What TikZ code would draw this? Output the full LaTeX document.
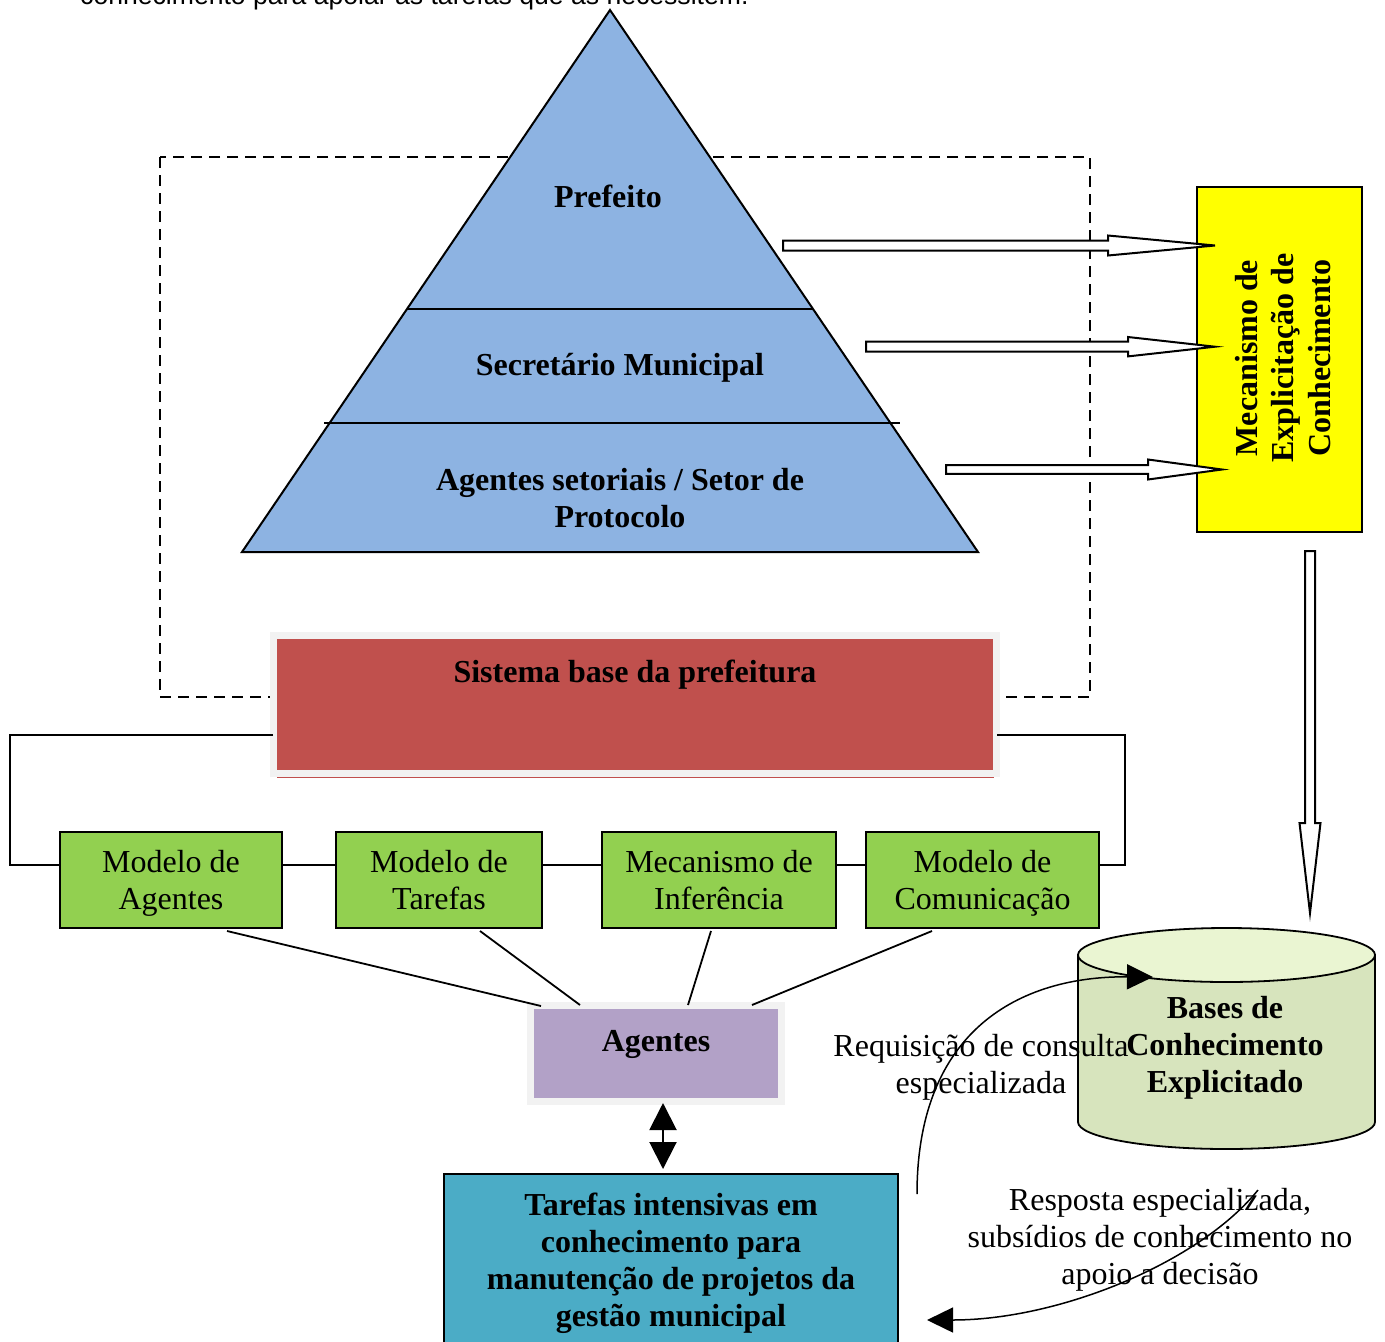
\documentclass[tikz,border=0pt]{standalone}
\usepackage{fontspec}
\setmainfont{Liberation Serif}
\newfontfamily\introfont{Liberation Sans}
\usetikzlibrary{arrows.meta,calc}

\definecolor{pyramid}{HTML}{8DB3E2}
\definecolor{sysred}{HTML}{C0504D}
\definecolor{framegray}{HTML}{F2F2F2}
\definecolor{agpurple}{HTML}{B2A1C7}
\definecolor{modgreen}{HTML}{92D050}
\definecolor{taskteal}{HTML}{4BACC6}
\definecolor{kbbody}{HTML}{D7E4BD}
\definecolor{kbtop}{HTML}{EAF5D2}
\definecolor{mechyellow}{HTML}{FFFF00}

% horizontal block arrow: start x, y, head base x, tip x, shaft half, head half
\newcommand\hblockarrow[6]{%
  \draw[blockarr] (#1,#2-#5) -- (#3,#2-#5) -- (#3,#2-#6) -- (#4,#2)
    -- (#3,#2+#6) -- (#3,#2+#5) -- (#1,#2+#5) -- cycle;}

\begin{document}
\begin{tikzpicture}[x=1pt,y=-1pt,
  txt/.style={font=\fontsize{32}{37}\selectfont},
  txtb/.style={font=\fontsize{32}{37}\selectfont\bfseries},
  modbox/.style={draw, line width=2pt, fill=modgreen, minimum height=96pt,
    inner sep=0pt, align=center, txt},
  blockarr/.style={draw, line width=2pt, fill=white, line join=miter},
  link/.style={line width=1.8pt},
  bigtip/.style={-{Triangle[length=26pt,width=25pt]}, line width=1.5pt},
]
\useasboundingbox (0,0) rectangle (1385,1342);

% running text line above the figure, cut by the page edge
\node[anchor=base west, inner sep=0pt, font=\introfont\fontsize{26.6}{30}\selectfont]
  (intro) at (80,4) {conhecimento para apoiar as tarefas que as necessitem.};

% dashed frame around the hierarchy
\draw[line width=1.6pt, dash pattern=on 11pt off 7pt] (160,157) rectangle (1090,697);

% hierarchy pyramid
\coordinate (apex) at (610,10);
\coordinate (bl) at (242,552);
\coordinate (br) at (978,552);
\draw[line width=2pt, fill=pyramid, line join=miter] (apex) -- (bl) -- (br) -- cycle;
\draw[line width=1.6pt] (407,309) -- (813,309);
\draw[line width=1.6pt] (324,423) -- (900,423);
\node[txtb] (pref) at (608,196) {Prefeito};
\node[txtb] (sec) at (620,368) {Secretário Municipal};
\node[txtb, align=center] (setor) at (620,498.5) {Agentes setoriais / Setor de\\Protocolo};

% knowledge elicitation mechanism
\node[draw, line width=2pt, fill=mechyellow, minimum width=165pt, minimum height=345pt,
  inner sep=0pt] (yel) at (1279.5,359.5) {};
\node[txtb, rotate=90, align=center, font=\fontsize{32}{36.5}\selectfont\bfseries]
  (yeltxt) at (1283,358) {Mecanismo de\\Explicitação de\\Conhecimento};

% block arrows from each level into the mechanism
\hblockarrow{783}{245.5}{1108}{1215}{5}{10}
\hblockarrow{866}{346.7}{1128}{1215}{5}{9.7}
\hblockarrow{946}{469.5}{1148}{1222}{4.3}{10}

% block arrow down to the knowledge bases
\draw[blockarr] (1305,551) -- (1315,551) -- (1315,823) -- (1320.5,823) -- (1310,913)
  -- (1299.5,823) -- (1305,823) -- cycle;

% base system
\node[draw=framegray, line width=7pt, fill=sysred, minimum width=723pt,
  minimum height=138pt, inner sep=0pt] (sys) at (635,704.5) {};
\draw[sysred, line width=1pt] (277,777.5) -- (994,777.5);
\node[txtb] (systxt) at (635,675) {Sistema base da prefeitura};

% models
\node[modbox, minimum width=222pt] (g1) at (171,880) {Modelo de\\\smash{Agentes}};
\node[modbox, minimum width=206pt] (g2) at (439,880) {Modelo de\\Tarefas};
\node[modbox, minimum width=234pt] (g3) at (719,880) {Mecanismo de\\Inferência};
\node[modbox, minimum width=233pt] (g4) at (982.5,880) {Modelo de\\\smash{Comunicação}};

\draw[link] ([yshift=-34pt]g1.north east) -- ([yshift=-34pt]g2.north west);
\draw[link] ([yshift=-34pt]g2.north east) -- ([yshift=-34pt]g3.north west);
\draw[link] ([yshift=-34pt]g3.north east) -- ([yshift=-34pt]g4.north west);

\coordinate (loopL) at (10,800);
\coordinate (loopR) at (1125,800);
\draw[link] ([xshift=3pt,yshift=-30.5pt]sys.west) -| (loopL) |- ([yshift=-34pt]g1.north west);
\draw[link] ([xshift=-3pt,yshift=-30.5pt]sys.east) -| (loopR) |- ([yshift=-34pt]g4.north east);

% agents
\node[draw=framegray, line width=7pt, fill=agpurple, minimum width=251pt,
  minimum height=96pt, inner sep=0pt] (ag) at (656,1053.5) {};
\node[txtb] (agtxt) at (656,1044) {Agentes};

\draw[link] ([xshift=56pt,yshift=-2pt]g1.south) -- ([xshift=-115pt,yshift=-4pt]ag.north);
\draw[link] ([xshift=41pt,yshift=-2pt]g2.south) -- ([xshift=-76pt,yshift=-3pt]ag.north);
\draw[link] ([xshift=-8pt,yshift=-2pt]g3.south) -- ([xshift=32pt,yshift=-3pt]ag.north);
\draw[link] ([xshift=-50.5pt,yshift=-2pt]g4.south) -- ([xshift=96pt,yshift=-3pt]ag.north);

% knowledge intensive tasks
\node[draw, line width=2pt, fill=taskteal, minimum width=454pt, minimum height=171pt,
  inner sep=0pt] (task) at (671,1259.5) {};
\node[txtb, align=center] (tasktxt) at (671,1263)
  {Tarefas intensivas em\\conhecimento para\\manutenção de projetos da\\gestão municipal};

\draw[{Triangle[length=27pt,width=27pt]}-{Triangle[length=27pt,width=27pt]}, line width=2pt,
  shorten <=-2pt, shorten >=4pt] ([xshift=7pt]ag.south) -- ([xshift=-8pt]task.north);

% knowledge bases cylinder
\draw[line width=1.8pt, fill=kbbody] (1078,955) -- (1078,1122)
  arc[start angle=180, end angle=360, x radius=148.5pt, y radius=27pt]
  -- (1375,955) -- cycle;
\draw[line width=1.8pt, fill=kbtop] (1226.5,955) ellipse [x radius=148.5pt, y radius=27pt];
\node[txtb, align=center] (kb) at (1225,1048) {Bases de\\Conhecimento\\Explicitado};

% request and answer labels
\node[txt, align=center] (req) at (981,1067) {Requisição de consulta\\especializada};
\node[txt, align=center] (resp) at (1160,1239.5)
  {Resposta especializada,\\subsídios de conhecimento no\\apoio a decisão};

% request and answer curves
\coordinate (q0) at (917,1194);
\coordinate (q1) at (1153,977);
\draw[bigtip] (q0) .. controls (917,1030) and (1020,976) .. (q1);
\coordinate (r0) at (1258,1190);
\coordinate (r1) at (927,1320);
\draw[bigtip] (r0) .. controls (1200,1262) and (1060,1320) .. (r1);
\end{tikzpicture}
\end{document}
